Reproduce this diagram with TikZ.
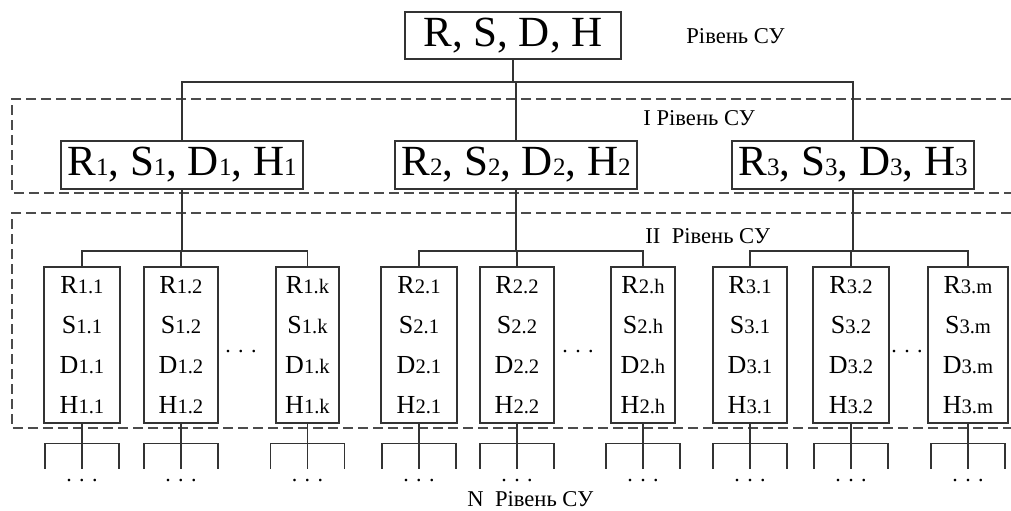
\documentclass[tikz,border=0pt]{standalone}
\usepackage{fontspec}
\setmainfont{Liberation Serif}
\usetikzlibrary{positioning}
\usetikzlibrary{calc}

\newcommand{\midsub}[1]{{\fontsize{12.5}{14}\selectfont #1}}
\newcommand{\leafsub}[1]{{\fontsize{10.3}{12}\selectfont #1}}

\tikzset{
  link/.style={draw=black!80, line width=0.7pt},
  zone/.style={draw=black!70, line width=0.7pt, dash pattern=on 5pt off 2.5pt},
  unitbox/.style={draw=black!80, line width=0.7pt, inner sep=0pt, align=center},
  topbox/.style={unitbox, minimum width=108pt, minimum height=23.5pt,
    font=\fontsize{21.5}{24}\selectfont},
  midbox/.style={unitbox, minimum width=121pt, minimum height=24pt,
    font=\fontsize{21.5}{24}\selectfont},
  leafbox/.style={unitbox, minimum height=78pt, font=\fontsize{13}{20}\selectfont},
  level/.style={anchor=base west, inner sep=0pt, font=\fontsize{11.3}{13}\selectfont},
  dots/.style={anchor=base, inner sep=0pt, font=\fontsize{11}{13}\selectfont}
}

\begin{document}
\begin{tikzpicture}[x=0.5pt, y=-0.5pt]
\useasboundingbox (0,0) rectangle (1011,510);

% level frames
\draw[zone] (1011,99) -- (12,99) -- (12,193) -- (1011,193);
\draw[zone] (1011,213) -- (12,213) -- (12,428) -- (1011,428);

% boxes
\node[topbox] (top) at (513,35.5) {R, S, D, H};
\node[midbox] (b1) at (182,165) {R\midsub{1}, S\midsub{1}, D\midsub{1}, H\midsub{1}};
\node[midbox] (b2) at (516,165) {R\midsub{2}, S\midsub{2}, D\midsub{2}, H\midsub{2}};
\node[midbox] (b3) at (853,165) {R\midsub{3}, S\midsub{3}, D\midsub{3}, H\midsub{3}};

\foreach \name/\x/\w/\k in {l11/82/76/1.1, l12/181/74/1.2, l1k/307.5/63/1.k,
    l21/419/76/2.1, l22/517/74/2.2, l2h/643/64/2.h,
    l31/750/74/3.1, l32/851/76/3.2, l3m/968/80/3.m}
  \node[leafbox, minimum width=\w*0.5pt] (\name) at (\x,345)
    {R\leafsub{\k}\\S\leafsub{\k}\\D\leafsub{\k}\\H\leafsub{\k}};

% level labels
\node[level] (lab0) at (686,43) {Рівень СУ};
\node[level] (lab1) at (643,125) {I Рівень СУ};
\node[level] (lab2) at (645,243) {II~ Рівень СУ};
\node[level] (labn) at (467,506) {N~ Рівень СУ};

% top branch
\coordinate (bus0) at (0,82);
\draw[link] (top.south) -- (top.south |- bus0);
\draw[link] (b1.north) |- (b3.north |- bus0) -- (b3.north);
\draw[link] (b2.north) -- (b2.north |- bus0);

% group branches
\coordinate (bus1) at (0,251);
\foreach \up/\a/\b/\c in {b1/l11/l12/l1k, b2/l21/l22/l2h, b3/l31/l32/l3m} {
  \draw[link] (\up.south) -- (\up.south |- bus1);
  \draw[link] (\a.north) |- (\c.north |- bus1) -- (\c.north);
  \draw[link] (\b.north) -- (\b.north |- bus1);
}

% gaps between leaves
\node[dots] (gap1) at (241,352) {. . .};
\node[dots] (gap2) at (578,352) {. . .};
\node[dots] (gap3) at (907,352) {. . .};

% lower levels
\foreach \name in {l11, l12, l1k, l21, l22, l2h, l31, l32, l3m} {
  \draw[link] (\name.south) -- ++(0,45);
  \draw[link] ([xshift=-18.5pt, yshift=-22.5pt]\name.south) |- ([yshift=-10pt]\name.south)
    -| ([xshift=18.5pt, yshift=-22.5pt]\name.south);
  \node[dots] (\name-more) at ([yshift=-29pt]\name.south) {. . .};
}
\end{tikzpicture}
\end{document}
